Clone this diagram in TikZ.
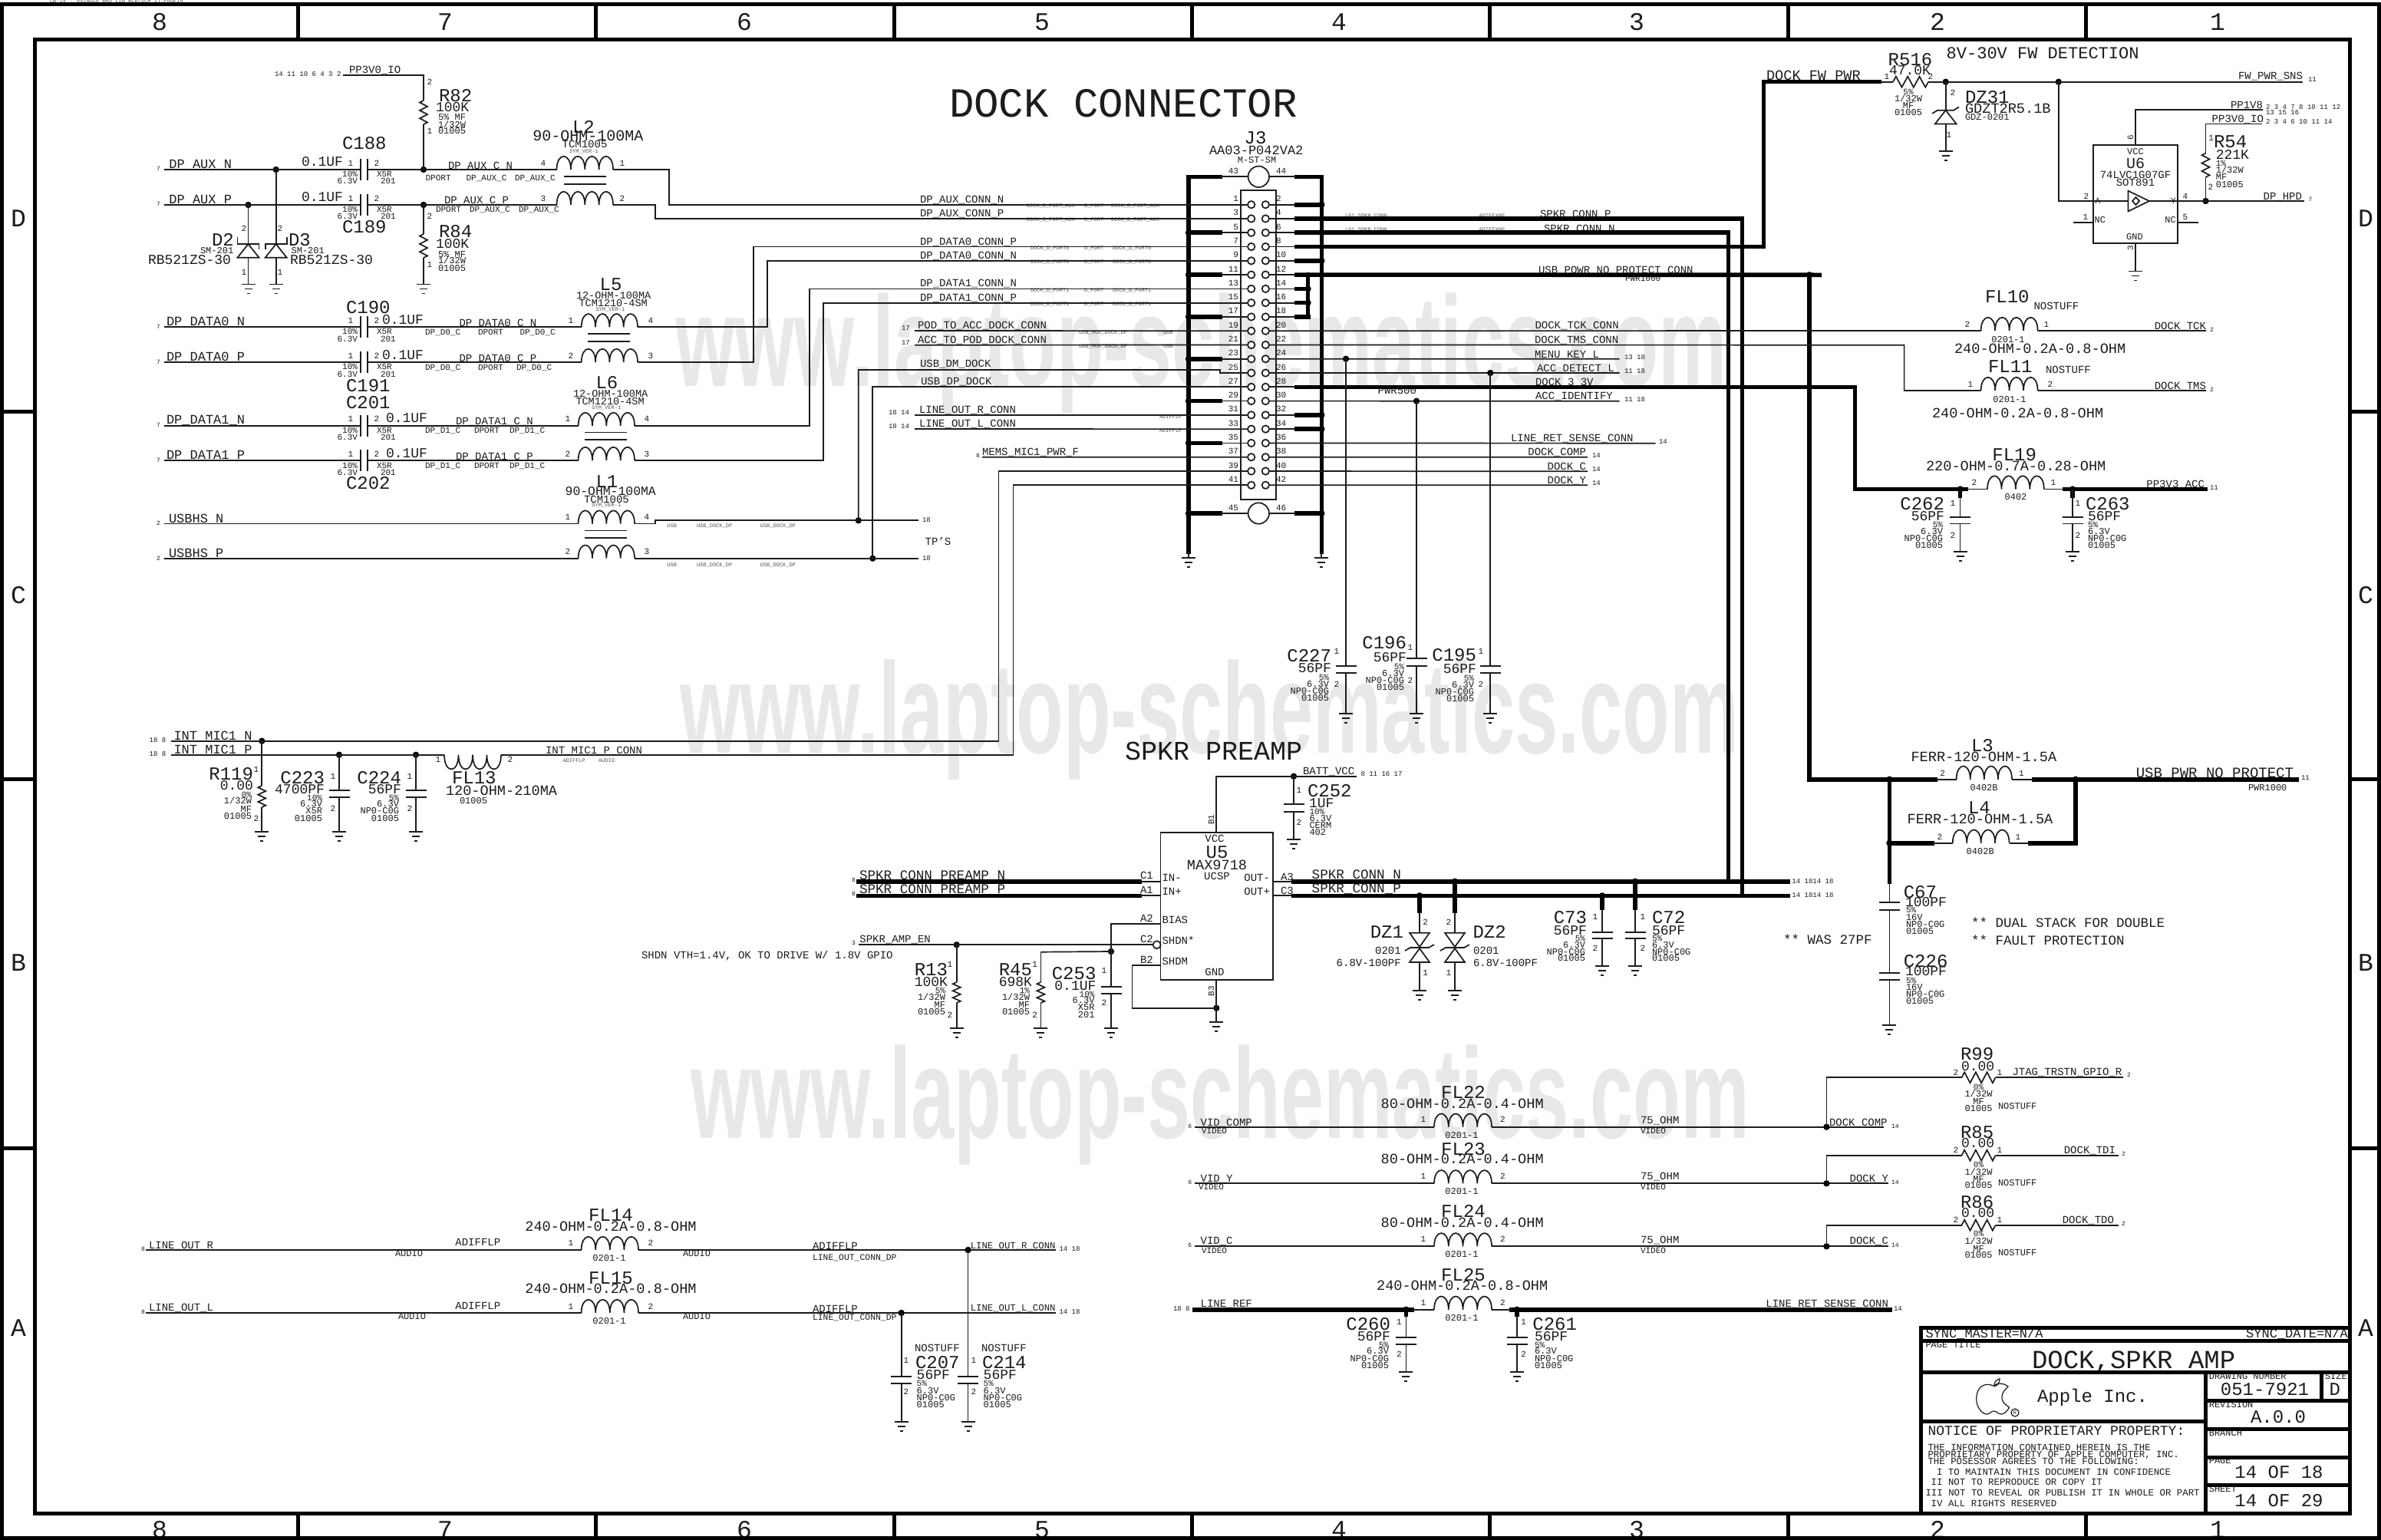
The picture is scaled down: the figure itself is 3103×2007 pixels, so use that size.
\documentclass[tikz,border=0pt]{standalone}
\usepackage{graphicx}
\usepackage{fontspec}
\setmainfont{Liberation Mono}
\newfontfamily\wmfont{Liberation Sans}
\usetikzlibrary{calc}
\definecolor{wmark}{HTML}{E8E8EA}
\definecolor{ink}{HTML}{1C1C1C}
\definecolor{tinyink}{HTML}{555555}
\catcode`\_=12
\newcounter{tn}
\tikzset{
  txt/.style={inner sep=0pt,outer sep=0pt,text=ink},
  wire/.style={line width=1.7pt,line cap=butt,line join=miter,draw=ink},
  tw/.style={line width=5.6pt,line cap=rect,line join=miter,draw=black},
  frameline/.style={line width=5pt,draw=black,line join=miter},
}
\newcommand\TL[4]{\stepcounter{tn}\node[txt,anchor=base west,font=\fontsize{#3}{#3}\selectfont] (t\arabic{tn}) at (#1,#2) {#4};}
\newcommand\TR[4]{\stepcounter{tn}\node[txt,anchor=base east,font=\fontsize{#3}{#3}\selectfont] (t\arabic{tn}) at (#1,#2) {#4};}
\newcommand\TC[4]{\stepcounter{tn}\node[txt,anchor=base,font=\fontsize{#3}{#3}\selectfont] (t\arabic{tn}) at (#1,#2) {#4};}
\newcommand\TT[3]{\stepcounter{tn}\node[txt,anchor=base west,text=tinyink,font=\fontsize{7}{7}\selectfont] (t\arabic{tn}) at (#1,#2) {#3};}
\newcommand\Pn[3]{\stepcounter{tn}\node[txt,anchor=base,font=\fontsize{11}{11}\selectfont] (t\arabic{tn}) at (#1,#2) {#3};}
\newcommand\Rt[3]{\stepcounter{tn}\node[txt,anchor=base,rotate=90,font=\fontsize{11}{11}\selectfont] (t\arabic{tn}) at (#1,#2) {#3};}
\newcommand\WM[3]{\stepcounter{tn}\node[txt,text=wmark,anchor=base west,font=\wmfont\bfseries\fontsize{168}{168}\selectfont] (t\arabic{tn}) at (#1,#2) {\scalebox{#3}[1]{www.laptop-schematics.com}};}
\newcommand\Pt[3]{\coordinate (#1) at (#2,#3);}
\newcommand\Dot[3]{\coordinate (#1) at (#2,#3);\fill[black] (#1) circle (4.2pt);}
\newcommand\Gnd[3]{\coordinate (#1) at (#2,#3);
  \draw[wire] (#2-9,#3) -- (#2+9,#3) (#2-5,#3+6) -- (#2+5,#3+6) (#2-2,#3+12) -- (#2+2,#3+12);}
\newcommand\Coil[4]{\coordinate (#1-a) at (#2,#4);\coordinate (#1-b) at (#3,#4);
  \pgfmathsetmacro\rkw{(#3-#2)/4}
  \draw[wire] (#1-a) .. controls +(0,-23) and +(0,-23) .. ++(\rkw,0) .. controls +(0,-23) and +(0,-23) .. ++(\rkw,0) .. controls +(0,-23) and +(0,-23) .. ++(\rkw,0) .. controls +(0,-23) and +(0,-23) .. ++(\rkw,0);}
\newcommand\CoilD[4]{\coordinate (#1-a) at (#2,#4);\coordinate (#1-b) at (#3,#4);
  \pgfmathsetmacro\rkw{(#3-#2)/4}
  \draw[wire] (#1-a) .. controls +(0,25) and +(0,25) .. ++(\rkw,0) .. controls +(0,25) and +(0,25) .. ++(\rkw,0) .. controls +(0,25) and +(0,25) .. ++(\rkw,0) .. controls +(0,25) and +(0,25) .. ++(\rkw,0);}
\newcommand\CapH[3]{\coordinate (#1-a) at (#2,#3);\coordinate (#1-b) at (#2+9,#3);
  \draw[wire] (#2,#3-14) -- (#2,#3+14) (#2+9,#3-14) -- (#2+9,#3+14);}
\newcommand\CapV[4]{\coordinate (#1-a) at (#2,#3);\coordinate (#1-b) at (#2,#4);
  \draw[wire] (#2-13.5,#3) -- (#2+13.5,#3) (#2-13.5,#4) -- (#2+13.5,#4);}
\newcommand\ResV[4]{\coordinate (#1-a) at (#2,#3);\coordinate (#1-b) at (#2,#4);
  \pgfmathsetmacro\rkw{(#4-#3)/6}
  \draw[wire] (#1-a) -- ++(-5,\rkw/2) -- ++(10,\rkw) -- ++(-10,\rkw) -- ++(10,\rkw) -- ++(-10,\rkw) -- ++(10,\rkw) -- (#1-b);}
\newcommand\ResH[4]{\coordinate (#1-a) at (#2,#4);\coordinate (#1-b) at (#3,#4);
  \pgfmathsetmacro\rkw{(#3-#2)/6}
  \draw[wire] (#1-a) -- ++(\rkw/2,-7) -- ++(\rkw,14) -- ++(\rkw,-14) -- ++(\rkw,14) -- ++(\rkw,-14) -- ++(\rkw,14) -- (#1-b);}
% name, x, top coordinate, plate1, plate2, ground y
\newcommand\CapG[6]{\CapV{#1}{#2}{#4}{#5}\Gnd{#1g}{#2}{#6}\draw[wire] (#3) -- (#1-a) (#1-b) -- (#1g);}
\newcommand\ResG[6]{\ResV{#1}{#2}{#4}{#5}\Gnd{#1g}{#2}{#6}\draw[wire] (#3) -- (#1-a) (#1-b) -- (#1g);}
\begin{document}
\begin{tikzpicture}[x=1pt,y=-1pt]
\useasboundingbox (0,0) rectangle (3103,2007);
\fill[white] (0,0) rectangle (3103,2007);
% ---------- watermark
\WM{880}{503}{.596}
\WM{886}{981}{.60}
\WM{900}{1483}{.60}
% ---------- all text (below the wires)
\TT{65}{3.5}{CB-14 : eSINGLE_BRD_LIB_WLB(SCH_1):PAGE14}
\TC{208}{40}{33}{8}\TC{580}{40}{33}{7}\TC{970}{40}{33}{6}\TC{1358}{40}{33}{5}\TC{1745}{40}{33}{4}\TC{2133}{40}{33}{3}\TC{2525}{40}{33}{2}\TC{2890}{40}{33}{1}
\TC{208}{2004}{33}{8}\TC{580}{2004}{33}{7}\TC{970}{2004}{33}{6}\TC{1358}{2004}{33}{5}\TC{1745}{2004}{33}{4}\TC{2133}{2004}{33}{3}\TC{2525}{2004}{33}{2}\TC{2890}{2004}{33}{1}
\TC{24}{295}{33}{D}\TC{24}{786}{33}{C}\TC{24}{1265}{33}{B}\TC{24}{1741}{33}{A}
\TC{3083}{295}{33}{D}\TC{3083}{786}{33}{C}\TC{3083}{1265}{33}{B}\TC{3083}{1741}{33}{A}
\TL{1237}{153}{54}{DOCK CONNECTOR}
\TL{1466}{990}{35}{SPKR PREAMP}
% top-left
\TL{358}{100}{9}{14 11 10 6 4 3 2}\TL{455}{96}{14}{PP3V0_IO}
\Pn{560}{111}{2}\TL{572}{132}{24}{R82}\TL{568}{145.5}{18}{100K}\TL{571}{157}{12}{5\% MF}\TL{571}{166}{12}{1/32W}\TL{571}{175}{12}{01005}\Pn{560}{175}{1}
\TL{204}{222}{8}{7}\TL{220.4}{219.6}{17}{DP_AUX_N}\TL{204}{268}{8}{7}\TL{220.4}{265}{17}{DP_AUX_P}
\TL{446}{194}{24}{C188}\TL{393}{216.5}{18}{0.1UF}\Pn{457}{216}{1}\Pn{491}{216}{2}\TR{466}{230}{11}{10\%}\TR{466}{239}{11}{6.3V}\TL{491}{230}{11}{X5R}\TL{496}{239}{11}{201}
\TL{393}{262}{18}{0.1UF}\Pn{457}{262}{1}\Pn{491}{262}{2}\TR{466}{276}{11}{10\%}\TR{466}{285}{11}{6.3V}\TL{491}{276}{11}{X5R}\TL{496}{285}{11}{201}\TL{446}{303}{24}{C189}
\TL{584}{220}{14}{DP_AUX_C_N}\TL{554.6}{235}{11}{DPORT}\TL{607.6}{235}{11}{DP_AUX_C}\TL{671}{235}{11}{DP_AUX_C}
\TL{579}{265}{14}{DP_AUX_C_P}\TL{568}{276}{11}{DPORT}\TL{612}{276}{11}{DP_AUX_C}\TL{676}{276}{11}{DP_AUX_C}
\TL{746}{173}{24}{L2}\TL{694.4}{183}{20}{90-OHM-100MA}\TL{732.6}{193}{14}{TCM1005}\TT{742}{199}{SYM_VER-1}
\Pn{708}{216}{4}\Pn{811}{216}{1}\Pn{708}{262}{3}\Pn{811}{262}{2}
\Pn{560}{285}{2}\TL{572}{309}{24}{R84}\TL{568}{323}{18}{100K}\TL{571}{335}{12}{5\% MF}\TL{571}{343}{12}{1/32W}\TL{571}{353.6}{12}{01005}\Pn{560}{348}{1}
\TL{276}{320.5}{24}{D2}\TL{376}{320.5}{24}{D3}\TL{261}{330}{12}{SM-201}\TL{379.6}{330}{12}{SM-201}\TL{193}{344.6}{18}{RB521ZS-30}\TL{378}{344.6}{18}{RB521ZS-30}
\Pn{318}{301}{2}\Pn{365}{301}{2}\Pn{318}{358}{1}\Pn{365}{358}{1}
\TL{204}{428}{8}{7}\TL{217}{424}{17}{DP_DATA0_N}\TL{204}{474}{8}{7}\TL{217}{470.5}{17}{DP_DATA0_P}\TL{204}{556}{8}{7}\TL{217}{552}{17}{DP_DATA1_N}\TL{204}{602}{8}{7}\TL{217}{598}{17}{DP_DATA1_P}
\TL{204}{684}{8}{2}\TL{220}{681}{17}{USBHS_N}\TL{204}{730}{8}{2}\TL{220}{726}{17}{USBHS_P}
\TL{451}{408.5}{24}{C190}\TL{498}{422}{18}{0.1UF}\Pn{457}{421}{1}\Pn{491}{421}{2}\TR{466}{435.7}{11}{10\%}\TR{466}{445}{11}{6.3V}\TL{491}{435.7}{11}{X5R}\TL{496}{445}{11}{201}
\TL{498}{468}{18}{0.1UF}\Pn{457}{467}{1}\Pn{491}{467}{2}\TR{466}{481.5}{11}{10\%}\TR{466}{491}{11}{6.3V}\TL{491}{481.5}{11}{X5R}\TL{496}{491}{11}{201}\TL{451}{510}{24}{C191}
\TL{451}{532}{24}{C201}\TL{503}{550}{18}{0.1UF}\Pn{457}{549}{1}\Pn{491}{549}{2}\TR{466}{564}{11}{10\%}\TR{466}{573}{11}{6.3V}\TL{491}{564}{11}{X5R}\TL{496}{573}{11}{201}
\TL{503}{596}{18}{0.1UF}\Pn{457}{595}{1}\Pn{491}{595}{2}\TR{466}{610}{11}{10\%}\TR{466}{619}{11}{6.3V}\TL{491}{610}{11}{X5R}\TL{496}{619}{11}{201}\TL{451}{637}{24}{C202}
\TL{598.5}{425}{14}{DP_DATA0_C_N}\TL{554}{436}{11}{DP_D0_C}\TL{623}{436}{11}{DPORT}\TL{677.5}{436}{11}{DP_D0_C}
\TL{598.5}{471}{14}{DP_DATA0_C_P}\TL{554}{482}{11}{DP_D0_C}\TL{623}{482}{11}{DPORT}\TL{673}{482}{11}{DP_D0_C}
\TL{594}{553}{14}{DP_DATA1_C_N}\TL{554}{564}{11}{DP_D1_C}\TL{618}{564}{11}{DPORT}\TL{664}{564}{11}{DP_D1_C}
\TL{594}{599}{14}{DP_DATA1_C_P}\TL{554}{610}{11}{DP_D1_C}\TL{618}{610}{11}{DPORT}\TL{664}{610}{11}{DP_D1_C}
\TL{781.6}{378}{24}{L5}\TL{751}{389}{13.5}{12-OHM-100MA}\TL{754.6}{399}{13.5}{TCM1210-4SM}\TT{776.5}{405}{SYM_VER-1}
\Pn{744}{421}{1}\Pn{848}{421}{4}\Pn{744}{467}{2}\Pn{848}{467}{3}
\TL{776.5}{506}{24}{L6}\TL{747}{517}{13.5}{12-OHM-100MA}\TL{750.5}{527}{13.5}{TCM1210-4SM}\TT{771.4}{533}{SYM_VER-1}
\Pn{740}{549}{1}\Pn{843}{549}{4}\Pn{740}{595}{2}\Pn{843}{595}{3}
\TL{776.5}{635}{24}{L1}\TL{736.7}{645.5}{16.4}{90-OHM-100MA}\TL{761}{655}{14}{TCM1005}\TT{771.4}{660.7}{SYM_VER-1}
\Pn{740}{677}{1}\Pn{843}{677}{4}\Pn{740}{722}{2}\Pn{843}{722}{3}
\TT{869.4}{687}{USB}\TT{908}{687}{USB_DOCK_DP}\TT{990.7}{687}{USB_DOCK_DP}\TT{869.4}{738}{USB}\TT{908}{738}{USB_DOCK_DP}\TT{990.7}{738}{USB_DOCK_DP}
\TL{1202}{680}{9}{18}\TL{1202}{730}{9}{18}\TL{1205.7}{710}{14}{TP'S}
% J3 left
\TC{1636}{187.5}{24}{J3}\TL{1576}{201.7}{17}{AA03-P042VA2}\TC{1638}{212}{12}{M-ST-SM}
\TL{1199}{264.6}{14}{DP_AUX_CONN_N}\TL{1199}{282.7}{14}{DP_AUX_CONN_P}\TL{1199}{319}{14}{DP_DATA0_CONN_P}\TL{1199}{337.5}{14}{DP_DATA0_CONN_N}\TL{1199}{373.7}{14}{DP_DATA1_CONN_N}\TL{1199}{392}{14}{DP_DATA1_CONN_P}
\TT{1338}{270.5}{DOCK_D_PORT_AUX}\TT{1413}{270.5}{D_PORT}\TT{1448}{270.5}{DOCK_D_PORT_AUX}
\TT{1338}{288.7}{DOCK_D_PORT_AUX}\TT{1413}{288.7}{D_PORT}\TT{1448}{288.7}{DOCK_D_PORT_AUX}
\TT{1343}{325.5}{DOCK_D_PORT0}\TT{1413}{325.5}{D_PORT}\TT{1450}{325.5}{DOCK_D_PORT0}
\TT{1343}{343.7}{DOCK_D_PORT0}\TT{1413}{343.7}{D_PORT}\TT{1450}{343.7}{DOCK_D_PORT0}
\TT{1343}{380.4}{DOCK_D_PORT1}\TT{1413}{380.4}{D_PORT}\TT{1450}{380.4}{DOCK_D_PORT1}
\TT{1343}{398.6}{DOCK_D_PORT1}\TT{1413}{398.6}{D_PORT}\TT{1450}{398.6}{DOCK_D_PORT1}
\TL{1175}{430}{9}{17}\TL{1196}{428.5}{14}{POD_TO_ACC_DOCK_CONN}\TL{1175}{449}{9}{17}\TL{1196}{447}{14}{ACC_TO_POD_DOCK_CONN}
\TT{1406}{435}{USB_MUX_DOCK_DP}\TT{1516}{435}{USB}\TT{1406}{453.6}{USB_MUX_DOCK_DP}\TT{1516}{453.6}{USB}
\TL{1199}{478}{14}{USB_DM_DOCK}\TL{1200}{501}{14}{USB_DP_DOCK}
\TL{1158}{540}{9}{18 14}\TL{1198}{538.5}{14}{LINE_OUT_R_CONN}\TL{1158}{558}{9}{18 14}\TL{1198}{556}{14}{LINE_OUT_L_CONN}
\TT{1511}{545}{ADIFFLP}\TT{1511}{563.5}{ADIFFLP}
\TL{1272}{596}{8}{8}\TL{1280}{593.5}{14}{MEMS_MIC1_PWR_F}
% J3 pin numbers
\foreach \k in {0,...,20}{\pgfmathtruncatemacro\pa{2*\k+1}\pgfmathtruncatemacro\pb{2*\k+2}\pgfmathsetmacro\py{262.7+18.28*\k}
 \TR{1614}{\py}{11}{\pa}\TL{1663}{\py}{11}{\pb}}
\TR{1614}{226.7}{11}{43}\TL{1663}{226.7}{11}{44}\TR{1614}{665.7}{11}{45}\TL{1663}{665.7}{11}{46}
% J3 right
\TT{1753}{283}{L61_SPKR_CONN}\TT{1927.5}{283}{ADIFFXHP}\TL{2007}{283.6}{14}{SPKR_CONN_P}
\TT{1753}{301}{L61_SPKR_CONN}\TT{1927.5}{301}{ADIFFXHP}\TL{2012}{302}{14}{SPKR_CONN_N}
\TL{2005}{356}{14}{USB_POWR_NO_PROTECT_CONN}\TL{2118}{366.6}{11}{PWR1000}
\TL{2000.5}{428.7}{14}{DOCK_TCK_CONN}\TL{2000}{447.6}{14}{DOCK_TMS_CONN}
\TL{2000}{466}{14}{MENU_KEY_L}\TL{2117}{468}{9}{13 18}\TL{2003}{484.8}{14}{ACC_DETECT_L}\TL{2117}{486}{9}{11 18}
\TL{2001}{502.5}{14}{DOCK_3_3V}\TL{1795.6}{513}{14}{PWR500}\TL{2001}{520.7}{14}{ACC_IDENTIFY}\TL{2117}{523}{9}{11 18}
\TL{1969}{575.7}{14}{LINE_RET_SENSE_CONN}\TL{2162}{578}{9}{14}
\TR{2067}{593.5}{14}{DOCK_COMP}\TL{2075}{596}{9}{14}\TR{2067}{612}{14}{DOCK_C}\TL{2075}{614}{9}{14}\TR{2067}{630}{14}{DOCK_Y}\TL{2075}{632}{9}{14}
% C227 C196 C195
\TR{1735}{862}{24}{C227}\TR{1735}{876}{18}{56PF}\TR{1732}{886}{11}{5\%}\TR{1732}{895}{12}{6.3V}\TR{1732}{904}{12}{NP0-C0G}\TR{1732}{913}{12}{01005}\Pn{1742}{852}{1}\Pn{1742}{895}{2}
\TR{1833}{845}{24}{C196}\TR{1833}{862}{18}{56PF}\TR{1830}{872}{11}{5\%}\TR{1830}{881}{12}{6.3V}\TR{1830}{890}{12}{NP0-C0G}\TR{1830}{899}{12}{01005}\Pn{1838}{847}{1}\Pn{1838}{890}{2}
\TR{1924}{861}{24}{C195}\TR{1924}{877}{18}{56PF}\TR{1921}{887}{11}{5\%}\TR{1921}{896}{12}{6.3V}\TR{1921}{905}{12}{NP0-C0G}\TR{1921}{914}{12}{01005}\Pn{1930}{852}{1}\Pn{1930}{895}{2}
% FW
\TL{2302}{104.5}{18.6}{DOCK_FW_PWR}\TL{2460.7}{86}{24}{R516}\TL{2462}{98}{18}{47.0K}\Pn{2459}{104}{1}\Pn{2516}{104}{2}
\TC{2487}{123.6}{11}{5\%}\TC{2487}{132.6}{12}{1/32W}\TC{2487}{141.5}{12}{MF}\TC{2487}{150}{12}{01005}
\TL{2536.7}{76.5}{22}{8V-30V FW DETECTION}
\Pn{2545}{125}{2}\Pn{2540}{179.5}{1}\TL{2561}{134.8}{24}{DZ31}\TL{2561}{147}{18.6}{GDZT2R5.1B}\TL{2561}{157}{12}{GDZ-0201}
\TR{3001}{103.6}{14}{FW_PWR_SNS}\TL{3008}{107}{9}{11}
\TR{2949}{141.5}{14}{PP1V8}\TL{2953}{142.4}{9}{2 3 4 7 8 10 11 12}\TL{2953}{149.5}{9}{13 15 16}
\TL{2882.7}{160}{14}{PP3V0_IO}\TL{2953}{161.6}{9}{2 3 4 6 10 11 14}
\Pn{2881.6}{183}{1}\Pn{2881}{247.3}{2}\TL{2885}{193}{24}{R54}\TL{2887.8}{207}{18}{221K}\TL{2887.8}{216}{11}{1\%}\TL{2887.8}{225.4}{12}{1/32W}\TL{2887.8}{234.4}{12}{MF}\TL{2887.8}{244}{12}{01005}
\Rt{2780}{179.5}{6}\TC{2783}{201}{12}{VCC}\TC{2783}{219.6}{20}{U6}\TC{2783}{232}{14}{74LVC1G07GF}\TC{2783}{242}{14}{SOT891}
\Pn{2719}{259}{2}\TL{2730.6}{265}{11}{A}\TR{2835.7}{265}{11}{Y}\Pn{2848}{259}{4}
\Pn{2718}{286.6}{1}\TL{2729.6}{290}{12}{NC}\TR{2835.7}{290}{12}{NC}\Pn{2848}{286.6}{5}\TC{2782}{312}{12}{GND}\Rt{2780}{323}{3}
\TR{3000}{260.7}{14}{DP_HPD}\TL{3008.7}{262}{8}{7}
% FL10 etc
\TL{2587}{394}{24}{FL10}\TL{2650.5}{403}{14}{NOSTUFF}\Pn{2564}{426}{2}\Pn{2667}{426}{1}\TC{2617}{446}{12}{0201-1}\TL{2547}{460.7}{18.6}{240-OHM-0.2A-0.8-OHM}
\TR{2875}{429}{14}{DOCK_TCK}\TL{2880}{432}{8}{2}
\TL{2591}{485}{24}{FL11}\TL{2666}{486}{14}{NOSTUFF}\Pn{2568}{504}{1}\Pn{2672}{504}{2}\TC{2619}{524}{12}{0201-1}\TL{2518}{544}{18.6}{240-OHM-0.2A-0.8-OHM}
\TR{2875}{507}{14}{DOCK_TMS}\TL{2880}{510}{8}{2}
\TL{2596.4}{600}{24}{FL19}\TL{2510}{613.4}{18.6}{220-OHM-0.7A-0.28-OHM}\Pn{2573}{632}{2}\Pn{2676}{632}{1}\TC{2627}{651}{12}{0402}
\TR{2873}{635.7}{14}{PP3V3_ACC}\TL{2880}{638}{9}{11}
\TR{2534}{664}{24}{C262}\TR{2534}{678}{18}{56PF}\TR{2532}{687}{11}{5\%}\TR{2532}{696}{12}{6.3V}\TR{2532}{705}{12}{NP0-C0G}\TR{2532}{714}{12}{01005}\Pn{2545}{659}{1}\Pn{2545}{701}{2}
\TL{2718}{664}{24}{C263}\TL{2721}{678}{18}{56PF}\TL{2721}{687}{11}{5\%}\TL{2721}{696}{12}{6.3V}\TL{2721}{705}{12}{NP0-C0G}\TL{2721}{714}{12}{01005}\Pn{2708}{659}{1}\Pn{2708}{701}{2}
% INT MIC
\TL{194.6}{967}{9}{18 8}\TL{226.5}{964}{17}{INT_MIC1_N}\TL{194.6}{985}{9}{18 8}\TL{226.5}{982}{17}{INT_MIC1_P}
\TR{330}{1016}{24}{R119}\TR{330}{1029}{18}{0.00}\TR{328}{1039}{11}{0\%}\TR{328}{1047.7}{12}{1/32W}\TR{328}{1058}{12}{MF}\TR{328}{1067}{12}{01005}\Pn{334}{1006}{1}\Pn{334}{1070}{2}
\TR{423}{1021}{24}{C223}\TR{423}{1034}{18}{4700PF}\TR{420}{1043}{11}{10\%}\TR{420}{1051.7}{12}{6.3V}\TR{420}{1060.7}{12}{X5R}\TR{420}{1070.7}{12}{01005}\Pn{434}{1015}{1}\Pn{434}{1057}{2}
\TR{523}{1021}{24}{C224}\TR{523}{1034}{18}{56PF}\TR{520}{1043}{11}{5\%}\TR{520}{1051.7}{12}{6.3V}\TR{520}{1060.7}{12}{NP0-C0G}\TR{520}{1070.7}{12}{01005}\Pn{534}{1015}{1}\Pn{534}{1057}{2}
\TL{589}{1021.7}{24}{FL13}\TL{581}{1036.7}{18.6}{120-OHM-210MA}\TL{599}{1047.7}{12}{01005}\Pn{571}{993}{1}\Pn{665}{993}{2}
\TL{711}{982.7}{14}{INT_MIC1_P_CONN}\TT{733.5}{993.7}{ADIFFLP}\TT{780}{993.7}{AUDIO}
% SPKR preamp
\TL{1110}{1149}{8}{8}\TL{1120}{1146.7}{17.6}{SPKR_CONN_PREAMP_N}\TL{1110}{1167}{8}{8}\TL{1120}{1164.7}{17.6}{SPKR_CONN_PREAMP_P}
\TL{1110}{1231}{8}{3}\TL{1120.4}{1228}{14}{SPKR_AMP_EN}\TL{836}{1249.3}{14}{SHDN VTH=1.4V, OK TO DRIVE W/ 1.8V GPIO}
\TL{1698}{1009}{14}{BATT_VCC}\TL{1773.5}{1011}{9}{8 11 16 17}\Rt{1582}{1068}{B1}
\Pn{1693}{1033}{1}\Pn{1693}{1075}{2}\TL{1704}{1038}{24}{C252}\TL{1706}{1052.7}{18}{1UF}\TL{1706.5}{1061}{11}{10\%}\TL{1706.5}{1070.7}{12}{6.3V}\TL{1706.5}{1079}{12}{CERM}\TL{1706.5}{1088}{12}{402}
\TC{1583}{1097}{14}{VCC}\TC{1586}{1118}{24}{U5}\TC{1586}{1133.5}{18.6}{MAX9718}\TC{1586}{1146}{14}{UCSP}\TC{1583}{1271.7}{14}{GND}
\TL{1486}{1145.7}{14}{C1}\TL{1514.5}{1148.3}{14}{IN-}\TL{1486}{1164}{14}{A1}\TL{1514.5}{1166.7}{14}{IN+}
\TL{1486}{1201}{14}{A2}\TL{1514.5}{1203}{14}{BIAS}\TL{1486}{1228}{14}{C2}\TL{1514.5}{1230}{14}{SHDN*}\TL{1486}{1255}{14}{B2}\TL{1514.5}{1257.7}{14}{SHDM}
\TR{1655}{1148.3}{14}{OUT-}\TR{1655}{1166.7}{14}{OUT+}\TL{1669}{1147}{14}{A3}\TL{1669}{1165}{14}{C3}\Rt{1582}{1291.7}{B3}
\TL{1709.7}{1145.7}{17.6}{SPKR_CONN_N}\TL{1709.7}{1163.7}{17.6}{SPKR_CONN_P}
\TR{1235}{1271.7}{24}{R13}\TR{1235}{1285}{18}{100K}\TR{1232}{1294}{11}{5\%}\TR{1232}{1303}{12}{1/32W}\TR{1232}{1313}{12}{MF}\TR{1232}{1322.7}{12}{01005}\Pn{1238}{1260}{1}\Pn{1238}{1326}{2}
\TR{1345}{1271.7}{24}{R45}\TR{1345}{1285}{18}{698K}\TR{1342}{1294}{11}{1\%}\TR{1342}{1303}{12}{1/32W}\TR{1342}{1313}{12}{MF}\TR{1342}{1322.7}{12}{01005}\Pn{1348.7}{1260}{1}\Pn{1348.7}{1326}{2}
\TR{1428.4}{1276.7}{24}{C253}\TR{1428.4}{1290.7}{18}{0.1UF}\TR{1426.5}{1299}{11}{10\%}\TR{1426.5}{1307}{12}{6.3V}\TR{1426.5}{1316.7}{12}{X5R}\TR{1426.5}{1326.7}{12}{201}\Pn{1439}{1268}{1}\Pn{1439}{1310.7}{2}
\TR{1829}{1222.7}{24}{DZ1}\TR{1825.7}{1243}{14}{0201}\TR{1825.7}{1259}{14}{6.8V-100PF}\TL{1919.5}{1222.7}{24}{DZ2}\TL{1920}{1243}{14}{0201}\TL{1920}{1259}{14}{6.8V-100PF}
\Pn{1857.6}{1205}{2}\Pn{1888}{1205}{2}\Pn{1857.6}{1271}{1}\Pn{1888}{1271}{1}
\TR{2068}{1203}{24}{C73}\TR{2068}{1218}{18}{56PF}\TR{2066}{1226}{11}{5\%}\TR{2066}{1235}{12}{6.3V}\TR{2066}{1244}{12}{NP0-C0G}\TR{2066}{1252.7}{12}{01005}\Pn{2079}{1198}{1}\Pn{2079}{1239}{2}
\TL{2153}{1203}{24}{C72}\TL{2153}{1218}{18}{56PF}\TL{2153}{1226}{11}{5\%}\TL{2153}{1235}{12}{6.3V}\TL{2153}{1244}{12}{NP0-C0G}\TL{2153}{1252.7}{12}{01005}\Pn{2141}{1198}{1}\Pn{2141}{1239}{2}
\TL{2335.4}{1151}{9}{14 1814 18}\TL{2335.4}{1169}{9}{14 1814 18}
% L3 L4
\TL{2569}{979}{24}{L3}\TL{2490.5}{992.7}{18.6}{FERR-120-OHM-1.5A}\Pn{2531.7}{1011.7}{2}\Pn{2634.5}{1011.7}{1}\TL{2567.6}{1030.7}{12}{0402B}
\TL{2565}{1060.7}{24}{L4}\TL{2485.6}{1073}{18.6}{FERR-120-OHM-1.5A}\Pn{2527.8}{1094}{2}\Pn{2630}{1094}{1}\TL{2562.7}{1113}{12}{0402B}
\TL{2783.8}{1013}{19}{USB_PWR_NO_PROTECT}\TL{2999}{1016}{9}{11}\TL{2930}{1030}{12}{PWR1000}
\TL{2480.8}{1170}{24}{C67}\TL{2483}{1181}{18}{100PF}\TL{2484}{1189}{11}{5\%}\TL{2484}{1199}{12}{16V}\TL{2484}{1208}{12}{NP0-C0G}\TL{2484}{1217}{12}{01005}
\TL{2480.8}{1260}{24}{C226}\TL{2483}{1271.7}{18}{100PF}\TL{2484}{1281}{11}{5\%}\TL{2484}{1290}{12}{16V}\TL{2484}{1299}{12}{NP0-C0G}\TL{2484}{1308}{12}{01005}
\TL{2324}{1230.7}{17.5}{** WAS 27PF}\TL{2569}{1208}{17.5}{** DUAL STACK FOR DOUBLE}\TL{2569}{1231}{17.5}{** FAULT PROTECTION}
% line out
\TL{184}{1630}{8}{8}\TL{194}{1627.7}{14}{LINE_OUT_R}\TC{796}{1591}{24}{FL14}\TC{796}{1604.3}{18.6}{240-OHM-0.2A-0.8-OHM}\Pn{744}{1623.3}{1}\Pn{848}{1623.3}{2}\TC{794}{1643.3}{12}{0201-1}
\TL{593.4}{1623.3}{14}{ADIFFLP}\TL{515}{1637.7}{12}{AUDIO}\TL{890}{1637.7}{12}{AUDIO}\TL{1059}{1628.3}{14}{ADIFFLP}\TL{1059}{1642.7}{11.4}{LINE_OUT_CONN_DP}
\TL{1264.8}{1627.7}{12.3}{LINE_OUT_R_CONN}\TL{1380.5}{1630}{9}{14 18}
\TL{184}{1712}{8}{8}\TL{194}{1708.3}{14}{LINE_OUT_L}\TC{796}{1673.3}{24}{FL15}\TC{796}{1685}{18.6}{240-OHM-0.2A-0.8-OHM}\Pn{744}{1706}{1}\Pn{848}{1706}{2}\TC{794}{1725.7}{12}{0201-1}
\TL{593.4}{1706}{14}{ADIFFLP}\TL{519}{1719.3}{12}{AUDIO}\TL{890}{1719.3}{12}{AUDIO}\TL{1059}{1710}{14}{ADIFFLP}\TL{1059}{1720}{11.4}{LINE_OUT_CONN_DP}
\TL{1264.8}{1708.3}{12.3}{LINE_OUT_L_CONN}\TL{1380.5}{1712}{9}{14 18}
\TL{1192}{1761.7}{14}{NOSTUFF}\TL{1279}{1761.7}{14}{NOSTUFF}\TL{1193}{1783.3}{24}{C207}\TL{1280}{1783.3}{24}{C214}
\TL{1194.7}{1797.3}{18}{56PF}\TL{1194.7}{1806.7}{11}{5\%}\TL{1194.7}{1816}{12}{6.3V}\TL{1194.7}{1825}{12}{NP0-C0G}\TL{1194.7}{1834}{12}{01005}\Pn{1181}{1776.7}{1}\Pn{1181}{1817.7}{2}
\TL{1281.7}{1797.3}{18}{56PF}\TL{1281.7}{1806.7}{11}{5\%}\TL{1281.7}{1816}{12}{6.3V}\TL{1281.7}{1825}{12}{NP0-C0G}\TL{1281.7}{1834}{12}{01005}\Pn{1269}{1776.7}{1}\Pn{1269}{1817.7}{2}
% video
\TL{1548.4}{1470}{8}{6}\TL{1564.6}{1467.3}{14}{VID_COMP}\TL{1566}{1477.3}{11}{VIDEO}\TC{1907}{1431.7}{24}{FL22}\TC{1905.7}{1444.3}{18.6}{80-OHM-0.2A-0.4-OHM}\Pn{1855}{1462.7}{1}\Pn{1958.5}{1462.7}{2}\TC{1905}{1483.3}{12}{0201-1}\TL{2138}{1464}{14}{75_OHM}\TL{2138}{1477.3}{11}{VIDEO}\TL{2384}{1467.7}{14}{DOCK_COMP}\TL{2465}{1470}{8}{14}
\TL{1548.4}{1543}{8}{6}\TL{1564.6}{1540.7}{14}{VID_Y}\TL{1562}{1550}{11}{VIDEO}\TC{1907}{1505}{24}{FL23}\TC{1905.7}{1516.7}{18.6}{80-OHM-0.2A-0.4-OHM}\Pn{1855}{1536.7}{1}\Pn{1958.5}{1536.7}{2}\TC{1905}{1556}{12}{0201-1}\TL{2138}{1537.7}{14}{75_OHM}\TL{2138}{1550}{11}{VIDEO}\TR{2461}{1540.7}{14}{DOCK_Y}\TL{2465}{1543}{8}{14}
\TL{1548.4}{1625}{8}{6}\TL{1564.6}{1621.7}{14}{VID_C}\TL{1566}{1633}{11}{VIDEO}\TC{1907}{1586.7}{24}{FL24}\TC{1905.7}{1599}{18.6}{80-OHM-0.2A-0.4-OHM}\Pn{1855}{1618.7}{1}\Pn{1958.5}{1618.7}{2}\TC{1905}{1638}{12}{0201-1}\TL{2138}{1620}{14}{75_OHM}\TL{2138}{1633}{11}{VIDEO}\TR{2461}{1621.7}{14}{DOCK_C}\TL{2465}{1625}{8}{14}
\TL{1529}{1708}{9}{18 8}\TL{1564.6}{1703.3}{14}{LINE_REF}\TC{1907}{1669.3}{24}{FL25}\TC{1905.7}{1681.7}{18.6}{240-OHM-0.2A-0.8-OHM}\Pn{1855}{1701}{1}\Pn{1958.5}{1701}{2}\TC{1905}{1721}{12}{0201-1}\TR{2461}{1703.3}{14}{LINE_RET_SENSE_CONN}\TL{2468}{1708}{9}{14}
\TR{1812}{1733.3}{24}{C260}\TR{1812}{1747}{18}{56PF}\TR{1810}{1756}{11}{5\%}\TR{1810}{1764.3}{12}{6.3V}\TR{1810}{1774}{12}{NP0-C0G}\TR{1810}{1783}{12}{01005}\Pn{1823.5}{1726}{1}\Pn{1823.5}{1768}{2}
\TL{1997.4}{1733.3}{24}{C261}\TL{2000}{1747}{18}{56PF}\TL{2000}{1756}{11}{5\%}\TL{2000}{1764.3}{12}{6.3V}\TL{2000}{1774}{12}{NP0-C0G}\TL{2000}{1783}{12}{01005}\Pn{1985.7}{1726}{1}\Pn{1985.7}{1768}{2}
\TL{2555}{1381.7}{24}{R99}\TL{2556}{1395}{18}{0.00}\Pn{2549}{1401.7}{2}\Pn{2606}{1401.7}{1}\TC{2578.5}{1420.7}{11}{0\%}\TC{2578.5}{1429}{12}{1/32W}\TC{2578.5}{1439}{12}{MF}\TC{2578.5}{1448.3}{12}{01005}\TL{2604}{1445}{12}{NOSTUFF}\TL{2622.5}{1401}{14}{JTAG_TRSTN_GPIO_R}\TL{2772}{1403}{8}{2}
\TL{2555}{1483.3}{24}{R85}\TL{2556}{1495.7}{18}{0.00}\Pn{2549}{1502.7}{2}\Pn{2606}{1502.7}{1}\TC{2578.5}{1521.7}{11}{0\%}\TC{2578.5}{1531}{12}{1/32W}\TC{2578.5}{1540.7}{12}{MF}\TC{2578.5}{1548}{12}{01005}\TL{2604}{1545.7}{12}{NOSTUFF}\TR{2757}{1503}{14}{DOCK_TDI}\TL{2765}{1506}{8}{2}
\TL{2555}{1574.3}{24}{R86}\TL{2556}{1586.7}{18}{0.00}\Pn{2549}{1593}{2}\Pn{2606}{1593}{1}\TC{2578.5}{1611.7}{11}{0\%}\TC{2578.5}{1621}{12}{1/32W}\TC{2578.5}{1631}{12}{MF}\TC{2578.5}{1639.3}{12}{01005}\TL{2604}{1636.7}{12}{NOSTUFF}\TR{2755}{1594.5}{14}{DOCK_TDO}\TL{2765}{1597}{8}{2}
% title block
\TL{2509.5}{1743.3}{17}{SYNC_MASTER=N/A}\TR{3059.8}{1743.3}{17}{SYNC_DATE=N/A}\TL{2509.5}{1756.7}{12}{PAGE TITLE}\TL{2648}{1783}{34}{DOCK,SPKR AMP}
\TL{2655}{1827}{24}{Apple Inc.}\TL{2878.8}{1797.3}{12}{DRAWING NUMBER}\TC{2951.5}{1818}{24}{051-7921}\TL{3030}{1797.3}{12}{SIZE}\TL{3035.7}{1818}{24}{D}
\TL{2878.8}{1834.3}{12}{REVISION}\TC{2969}{1854.5}{24}{A.0.0}\TL{2878.8}{1871}{12}{BRANCH}\TL{2878.8}{1907.7}{12}{PAGE}\TC{2970}{1926.7}{24}{14 OF 18}\TL{2878.8}{1944.3}{12}{SHEET}\TC{2970}{1963.3}{24}{14 OF 29}
\TL{2512.5}{1870.7}{18}{NOTICE OF PROPRIETARY PROPERTY:}
\TL{2512.5}{1890}{12.4}{THE INFORMATION CONTAINED HEREIN IS THE}\TL{2512.5}{1899}{12.4}{PROPRIETARY PROPERTY OF APPLE COMPUTER, INC.}\TL{2512.5}{1908}{12.4}{THE POSESSOR AGREES TO THE FOLLOWING:}
\TL{2524}{1922}{12.4}{I TO MAINTAIN THIS DOCUMENT IN CONFIDENCE}\TL{2516.7}{1935}{12.4}{II NOT TO REPRODUCE OR COPY IT}\TL{2509.5}{1949}{12.4}{III NOT TO REVEAL OR PUBLISH IT IN WHOLE OR PART}\TL{2516.7}{1963}{12.4}{IV ALL RIGHTS RESERVED}
% ---------- J3 coordinates
\foreach \k in {0,...,20}{\pgfmathtruncatemacro\pa{2*\k+1}\pgfmathtruncatemacro\pb{2*\k+2}\pgfmathsetmacro\py{266.7+18.28*\k}
 \coordinate (JL\pa) at (1630.7,\py);\coordinate (JR\pb) at (1649.3,\py);}
\Pt{railL}{1549}{230.3}\Pt{railR}{1722.3}{230.3}\Pt{stubL}{1590}{230.3}\Pt{stubR}{1690}{230.3}
\Pt{mountT}{1640.3}{230.3}\Pt{mountB}{1640.3}{669}
\Pt{gL}{1549}{719}\Pt{gR}{1722.3}{719}
% ---------- connector rails
\draw[tw] (stubL) -- (railL) -- (gL);
\draw[tw] (stubR) -- (railR) -- (gR);
\draw[wire] (stubL) -- (mountT) -- (stubR);
\draw[tw] (gL |- mountB) -- (stubL |- mountB);
\draw[tw] (gR |- mountB) -- (stubR |- mountB);
\draw[wire] (stubL |- mountB) -- (mountB) -- (stubR |- mountB);
\Gnd{gLg}{1549}{727}\Gnd{gRg}{1722.3}{727}
\draw[wire] (gL) -- (gLg) (gR) -- (gRg);
\fill[black] (gL |- mountB) circle (4.2pt) (gR |- mountB) circle (4.2pt);
\foreach \n in {5,11,17,23,29,35}{\draw[wire] (stubL |- JL\n) -- (JL\n);\draw[tw] (railL |- JL\n) -- (stubL |- JL\n);\fill[black] (railL |- JL\n) circle (4.2pt);}
\foreach \n in {2,10,32,34}{\draw[wire] (JR\n) -- (stubR |- JR\n);\draw[tw] (railR |- JR\n) -- (stubR |- JR\n);\fill[black] (railR |- JR\n) circle (4.2pt);}
\foreach \n in {4,6,8,12,14,16,18,28}{\draw[wire] (JR\n) -- (stubR |- JR\n);}
% stitched power pins 12..18
\Pt{jv}{1704.7}{358.3}
\draw[tw,line width=4.6pt] (jv) |- (stubR |- JR18);
\draw[tw] (stubR |- JR14) -- (jv |- JR14) (stubR |- JR16) -- (jv |- JR16) (stubR |- JR18) -- (jv |- JR18);
\fill[black] (jv) circle (3.5pt) (jv |- JR14) circle (4pt) (jv |- JR16) circle (4pt);
% ---------- top left group
\Pt{PPio}{447}{98}\Pt{nAuxN}{214}{221}\Pt{nAuxP}{214}{267}
\Dot{dD3}{359.7}{221}\Dot{dD2}{323.5}{267}\Dot{dR82}{552}{221}\Dot{dR84}{552}{267}
\CapH{C188}{470}{221}\CapH{C189}{470}{267}
\draw[wire] (nAuxN) -- (C188-a) (nAuxP) -- (C189-a);
\ResV{R82}{552}{131}{162}
\draw[wire] (PPio) -| (R82-a) (R82-b) -- (dR82);
\ResG{R84}{552}{dR84}{305}{336}{370.5}
\Coil{L2a}{725.5}{799}{221}\Coil{L2b}{725.5}{799}{267}
\draw[wire] (C188-b) -- (L2a-a) (C189-b) -- (L2b-a);
\draw[wire] (735,230) -- (790,230) (735,240) -- (790,240);
\draw[wire] (L2a-b) -- ++(73,0) |- (JL1);
\draw[wire] (L2b-b) -- ++(55,0) |- (JL3);
% diodes
\Gnd{gD2}{323.5}{370.5}\Gnd{gD3}{359.7}{370.5}
\draw[wire] (dD2) -- (323.5,318) (323.5,335.7) -- (gD2);
\draw[wire] (dD3) -- (359.7,318) (359.7,335.7) -- (gD3);
\draw[wire] (323.5,318) -- (309.5,335.7) -- (337.5,335.7) -- cycle;
\draw[wire] (359.7,318) -- (345.7,335.7) -- (373.7,335.7) -- cycle;
\draw[wire] (309.5,309) -- (309.5,318) -- (337.5,318) -- (337.5,325);
\draw[wire] (373.7,309) -- (373.7,318) -- (345.7,318) -- (345.7,325);
% data lines
\foreach \nm/\ya in {C190/426.3,C191/472,C201/555,C202/600}{\CapH{\nm}{470}{\ya}}
\Pt{nD0N}{214}{426.3}\Pt{nD0P}{214}{472}\Pt{nD1N}{214}{555}\Pt{nD1P}{214}{600}
\draw[wire] (nD0N) -- (C190-a) (nD0P) -- (C191-a) (nD1N) -- (C201-a) (nD1P) -- (C202-a);
\Coil{L5a}{757.7}{831}{426.3}\Coil{L5b}{757.7}{831}{472}\Coil{L6a}{753.6}{827}{555}\Coil{L6b}{753.6}{827}{600}
\draw[wire] (C190-b) -- (L5a-a) (C191-b) -- (L5b-a) (C201-b) -- (L6a-a) (C202-b) -- (L6b-a);
\draw[wire] (766,435) -- (821,435) (766,445) -- (821,445) (762,563.4) -- (817,563.4) (762,573.2) -- (817,573.2);
\draw[wire] (L5a-b) -- (1000.3,426.3) |- (JL9);
\draw[wire] (L5b-b) -- (981.7,472) |- (JL7);
\draw[wire] (L6a-b) -- (1054.7,555) |- (JL13);
\draw[wire] (L6b-b) -- (1073.3,600) |- (JL15);
% USB
\Pt{nUN}{214}{682.6}\Pt{nUP}{214}{727.7}\Pt{eUN}{1196.7}{678.3}\Pt{eUP}{1196.7}{727.7}
\Coil{L1a}{753.6}{827}{682.6}\Coil{L1b}{753.6}{827}{727.7}
\draw[wire] (nUN) -- (L1a-a) (nUP) -- (L1b-a);
\draw[wire] (762,691.5) -- (817,691.5) (762,701) -- (817,701);
\Dot{dUN}{1118.7}{678.3}\Dot{dUP}{1137.3}{727.7}
\draw[wire] (L1a-b) -- (854,682.6) -- (854,678.3) -- (eUN);
\draw[wire] (L1b-b) -- (eUP);
\draw[wire] (dUN) -- (1118.7,482) -- (1590,482) -- (1590,486) -- (JL25);
\draw[wire] (dUP) |- (JL27);
% left pins with off-page nets
\Pt{nPod}{1192}{431}\Pt{nAcc}{1192}{449.7}\Pt{nLr}{1192}{541}\Pt{nLl}{1192}{559}\Pt{nMems}{1280}{595.7}
\draw[wire] (nPod) -- (JL19) (nAcc) -- (JL21) (nLr) -- (JL31) (nLl) -- (JL33) (nMems) -- (JL37);
% mic
\Pt{nMn}{222.7}{965.7}\Pt{nMp}{222.7}{983.7}
\Dot{dMn}{341.3}{965.7}\Dot{dC223}{442}{983.7}\Dot{dC224}{542}{983.7}
\draw[wire] (nMn) -- (1301.6,965.7) |- (JL39);
\CoilD{FL13}{579}{653}{983.7}
\draw[wire] (nMp) -- (FL13-a);
\draw[wire] (FL13-b) -- (1320.5,983.7) |- (JL41);
\ResG{R119}{341.3}{dMn}{1024}{1052}{1084}
\CapG{C223}{442}{dC223}{1030}{1039}{1084}
\CapG{C224}{542}{dC224}{1030}{1039}{1084}
% right pins
\Pt{spkPv}{2270.4}{1167.3}\Pt{spkNv}{2252.5}{1148.7}
\draw[tw] (stubR |- JR4) -| (spkPv);
\draw[tw] (stubR |- JR6) -| (spkNv);
\Pt{fwv}{2298.5}{106.7}\Pt{fwe}{2449}{106.7}
\draw[tw] (stubR |- JR8) -| (fwv) -- (fwe);
\Pt{usb18}{2371.4}{358.3}\Dot{dUsb}{2358}{358.3}
\draw[tw] (stubR |- JR12) -- (usb18);
\Pt{u1}{2358}{1015.7}
\draw[tw] (dUsb) -- (u1);
\Pt{acc3}{2417.3}{637.5}
\Dot{dC262}{2554.6}{637.5}\Dot{dC263}{2701}{637.5}
\draw[tw] (stubR |- JR28) -| (acc3) -- (2562,637.5);
\draw[tw] (2691,637.5) -- (2874.5,637.5);
\Coil{FL19}{2590}{2663.8}{637.5}
\draw[wire] (2562,637.5) -- (FL19-a) (FL19-b) -- (2691,637.5);
\draw[tw] (dC262) -- (2554.6,646) (dC263) -- (2701,646);
\CapG{C262}{2554.6}{dC262}{674}{682.6}{718.7}
\CapG{C263}{2701}{dC263}{674}{682.6}{718.7}
% FW section
\ResH{R516}{2467}{2513}{106.7}
\draw[wire] (fwe) -- (R516-a);
\Pt{fwEnd}{3001}{106.7}\Dot{dDZ}{2535.7}{106.7}\Dot{dU6a}{2682.7}{106.7}
\draw[wire] (R516-b) -- (fwEnd);
\Gnd{gDZ}{2535.7}{197}
\draw[wire] (dDZ) -- (2535.7,143.7) (2535.7,161.6) -- (gDZ);
\draw[wire] (2535.7,143.7) -- (2521.7,161.6) -- (2549.7,161.6) -- cycle;
\draw[wire] (2518,148) -- (2525,143.7) -- (2546,143.7) -- (2553,139.5);
\draw[wire] (2728,189.3) rectangle (2837.8,317);
\Pt{v18}{2949}{143.3}\Pt{v33}{2947.5}{161.6}\Pt{hpd}{3002.6}{262}
\draw[wire] (2783,189.3) |- (v18);
\draw[wire] (2773.5,248.7) -- (2801,262) -- (2773.5,275.4) -- cycle;
\draw[wire] (2783.5,257) -- (2788,262) -- (2783.5,267) -- (2779,262) -- cycle;
\draw[wire] (dU6a) |- (2773.5,262);
\Dot{dR54}{2874.5}{262}
\draw[wire] (2801,262) -- (hpd);
\ResV{R54}{2874.5}{199.6}{230.8}
\draw[wire] (v33) -| (R54-a) (R54-b) -- (dR54);
\draw[wire] (2701.5,289.7) -- (2728,289.7) (2837.8,289.7) -- (2864.8,289.7);
\Gnd{gU6}{2783}{353.6}
\draw[wire] (2783,317) -- (gU6);
% FL10/11
\Coil{FL10}{2581.6}{2655.6}{431}\Coil{FL11}{2581.6}{2655.6}{509}
\Pt{tck}{2875}{431}\Pt{tms}{2875}{509}
\draw[wire] (JR20) -- (FL10-a) (FL10-b) -- (tck);
\draw[wire] (JR22) -- (2481.6,449.7) |- (FL11-a) (FL11-b) -- (tms);
% pins 24..42
\Pt{eMenu}{2110.7}{467.7}\Pt{eDet}{2110.7}{486}\Pt{eId}{2110.7}{522.7}\Pt{eRet}{2157.7}{577.7}\Pt{eComp}{2069}{595.7}\Pt{eC}{2069}{614.3}\Pt{eY}{2069}{632.3}
\draw[wire] (JR24) -- (eMenu) (JR26) -- (eDet) (JR30) -- (eId) (JR36) -- (eRet) (JR38) -- (eComp) (JR40) -- (eC) (JR42) -- (eY);
\Dot{dC227}{1754}{467.7}\Dot{dC196}{1846}{522.7}\Dot{dC195}{1942.3}{486}
\CapG{C227}{1754}{dC227}{868}{877}{930}
\CapG{C196}{1846}{dC196}{858}{868}{930}
\CapG{C195}{1942.3}{dC195}{868}{877}{930}
% U5
\draw[wire] (1512.6,1085) rectangle (1658.7,1276.7);
\Pt{batt}{1767.7}{1011.7}\Dot{dBatt}{1686}{1011.7}
\draw[wire] (1585.3,1085) |- (batt);
\CapG{C252}{1686}{dBatt}{1048}{1057.7}{1094}
\Pt{pN}{1119}{1148.7}\Pt{pP}{1119}{1167.3}\Pt{pNe}{1485}{1148.7}\Pt{pPe}{1485}{1167.3}
\draw[tw] (pN) -- (pNe) (pP) -- (pPe);
\draw[wire] (pNe) -- (1512.6,1148.7) (pPe) -- (1512.6,1167.3);
\draw[wire] (1658.7,1148.7) -- (1685.5,1148.7) (1658.7,1167.3) -- (1685.5,1167.3);
\Pt{oN}{1685.5}{1148.7}\Pt{oP}{1685.5}{1167.3}\Pt{fN}{2330}{1148.7}\Pt{fP}{2330}{1167.3}
\draw[tw] (oN) -- (fN) (oP) -- (fP);
\Dot{dBias}{1448}{1240}\Pt{bias}{1512.6}{1203.7}
\draw[wire] (bias) -| (dBias);
\CapG{C253}{1448}{dBias}{1286}{1295}{1340}
\Pt{en}{1119}{1231.3}\Dot{dR13}{1246.7}{1231.3}
\draw[wire] (en) -- (1507,1231.3);
\draw[wire,fill=white] (1507.6,1231.3) circle (5pt);
\ResG{R13}{1246.7}{dR13}{1280}{1307}{1340}
\Pt{R45t}{1356.4}{1240.7}
\draw[wire] (dBias) -- (R45t);
\ResG{R45}{1356.4}{R45t}{1280}{1307}{1340}
\Dot{dGndU5}{1585.3}{1313.7}\Gnd{gU5}{1585.3}{1331.7}
\draw[wire] (1585.3,1276.7) -- (gU5);
\draw[wire] (1512.6,1258.3) -- (1475.6,1258.3) |- (dGndU5);
% DZ1 DZ2
\foreach \nm/\xa/\yd in {dzA/1850/1167.3,dzB/1896/1148.7}{
 \Dot{\nm}{\xa}{\yd}\Gnd{\nm g}{\xa}{1290.7}
 \draw[tw,line cap=butt] (\nm) -- (\xa,1190);
 \draw[wire] (\xa,1190) -- (\xa,1215.7) (\xa,1254) -- (\nm g);
 \draw[wire] (\xa-13,1215.7) -- (\xa+13,1215.7) -- (\xa,1234) -- cycle;
 \draw[wire] (\xa-13,1254) -- (\xa+13,1254) -- (\xa,1236) -- cycle;
 \draw[wire] (\xa-19,1239) -- (\xa-12,1235) -- (\xa+12,1235) -- (\xa+19,1231);
}
% C73 C72
\Dot{dC73}{2088}{1167.3}\Dot{dC72}{2131}{1148.7}
\Pt{c73t}{2088}{1186}\Pt{c72t}{2131}{1186}
\draw[tw,line cap=butt] (dC73) -- (c73t) (dC72) -- (c72t);
\CapG{C73}{2088}{c73t}{1215}{1223}{1258.7}
\CapG{C72}{2131}{c72t}{1215}{1223}{1258.7}
% L3 L4 C67
\Pt{L3tl}{2522}{1015.7}\Pt{L3tr}{2650.5}{1015.7}\Pt{usbe}{2993}{1015.7}
\Dot{dL3a}{2462.4}{1015.7}\Dot{dL3b}{2705}{1015.7}\Dot{dL4a}{2462.4}{1098.7}
\draw[tw] (u1) -- (L3tl) (L3tr) -- (usbe);
\Coil{L3}{2549.6}{2622}{1015.7}\Coil{L4}{2544.8}{2618.5}{1098.7}
\draw[wire] (L3tl) -- (L3-a) (L3-b) -- (L3tr);
\Pt{L4tl}{2518}{1098.7}\Pt{L4tr}{2646}{1098.7}
\draw[tw] (dL4a) -- (L4tl) (L4tr) -| (dL3b);
\draw[wire] (L4tl) -- (L4-a) (L4-b) -- (L4tr);
\Pt{c67t}{2462.4}{1148.7}
\draw[tw] (dL3a) -- (c67t);
\CapV{C67}{2462.4}{1176}{1185.7}\CapV{C226}{2462.4}{1267.7}{1276.7}\Gnd{gC67}{2462.4}{1336}
\draw[wire] (c67t) -- (C67-a) (C67-b) -- (C226-a) (C226-b) -- (gC67);
% line out
\Pt{loR}{190}{1629}\Pt{loL}{190}{1711}\Pt{loRe}{1375.7}{1629}\Pt{loLe}{1375.7}{1711}
\Coil{FL14}{757.6}{832}{1629}\Coil{FL15}{757.6}{832}{1711}
\draw[wire] (loR) -- (FL14-a) (FL14-b) -- (loRe) (loL) -- (FL15-a) (FL15-b) -- (loLe);
\Dot{dC214}{1261.6}{1629}\Dot{dC207}{1174.7}{1711}
\CapG{C207}{1174.7}{dC207}{1794.3}{1802.7}{1852.7}
\CapG{C214}{1261.6}{dC214}{1794.3}{1802.7}{1852.7}
% video
\Pt{vC}{1557}{1468.7}\Pt{vY}{1557}{1542.3}\Pt{vCh}{1557}{1624.3}\Pt{vCe}{2455}{1468.7}\Pt{vYe}{2461}{1542.3}\Pt{vChe}{2461}{1624.3}
\Coil{FL22}{1869}{1944}{1468.7}\Coil{FL23}{1869}{1944}{1542.3}\Coil{FL24}{1869}{1944}{1624.3}
\draw[wire] (vC) -- (FL22-a) (FL22-b) -- (vCe) (vY) -- (FL23-a) (FL23-b) -- (vYe) (vCh) -- (FL24-a) (FL24-b) -- (vChe);
\Dot{dR99}{2380.4}{1468.7}\Dot{dR85}{2380.4}{1542.3}\Dot{dR86}{2380.4}{1624.3}
\ResH{R99}{2556.5}{2600.5}{1404.3}\ResH{R85}{2556.5}{2600.5}{1505.7}\ResH{R86}{2556.5}{2600.5}{1596.7}
\draw[wire] (dR99) |- (R99-a) (dR85) |- (R85-a) (dR86) |- (R86-a);
\Pt{eR99}{2767}{1404.3}\Pt{eR85}{2761}{1505.7}\Pt{eR86}{2761}{1596.7}
\draw[wire] (R99-b) -- (eR99) (R85-b) -- (eR85) (R86-b) -- (eR86);
% line ref
\Pt{lr}{1557}{1706.7}\Pt{lrl}{1839.7}{1706.7}\Pt{lrr}{1969.6}{1706.7}\Pt{lre}{2463.3}{1706.7}
\draw[tw] (lr) -- (lrl) (lrr) -- (lre);
\Coil{FL25}{1869}{1944}{1706.7}
\draw[wire] (lrl) -- (FL25-a) (FL25-b) -- (lrr);
\Dot{dC260}{1832.4}{1706.7}\Dot{dC261}{1977}{1706.7}
\Pt{c260t}{1832.4}{1716}\Pt{c261t}{1977}{1716}
\draw[tw,line cap=butt] (dC260) -- (c260t) (dC261) -- (c261t);
\CapG{C260}{1832.4}{c260t}{1743}{1751.7}{1788}
\CapG{C261}{1977}{c261t}{1743}{1751.7}{1788}
% J3 body on top of wires
\draw[wire] (1617.3,248) rectangle (1662.7,650.7);
\draw[wire,fill=white] (mountT) circle (13.7pt) (mountB) circle (13.7pt);
\foreach \k in {0,...,20}{\pgfmathtruncatemacro\pa{2*\k+1}\pgfmathtruncatemacro\pb{2*\k+2}
 \draw[wire,fill=white] (JL\pa) circle (4.7pt) (JR\pb) circle (4.7pt);}
% ---------- title block
\draw[frameline] (2503.7,1730) rectangle (3062,1972);
\draw[frameline] (2503.7,1747.3) -- (3062,1747.3) (2503.7,1788.3) -- (3062,1788.3) (2503.7,1852.7) -- (2874,1852.7);
\draw[frameline] (2874,1788.3) -- (2874,1972);
\draw[frameline] (2874,1825.7) -- (3062,1825.7) (2874,1862.3) -- (3062,1862.3) (2874,1899) -- (3062,1899) (2874,1935) -- (3062,1935);
\draw[frameline] (3025.3,1788.3) -- (3025.3,1825.7);
% apple logo
\draw[wire,line width=1.2pt] (2597,1806) .. controls (2590,1802) and (2576,1804) .. (2575.7,1823) .. controls (2575.7,1835) and (2584,1843) .. (2589,1843) .. controls (2593,1843) and (2595,1839) .. (2598.6,1839) .. controls (2602,1839) and (2604,1843) .. (2608,1843) .. controls (2612,1843) and (2617,1838) .. (2618.5,1834) .. controls (2612,1830) and (2608,1826) .. (2609,1820) .. controls (2609,1815) and (2613,1811) .. (2617,1807) .. controls (2612,1802) and (2603,1802) .. (2597,1806);
\draw[wire,line width=1.2pt] (2599,1807) .. controls (2598,1801) and (2602,1798) .. (2606,1797) .. controls (2606,1802) and (2603,1806) .. (2599,1807);
\draw[wire,line width=1.2pt] (2626,1841) circle (5pt);
\TC{2626}{1843.5}{7}{R}
% ---------- sheet frame
\draw[frameline] (2,6) rectangle (3100,2004);
\draw[frameline] (45,52) rectangle (3062,1972);
\foreach \xa in {388,776,1165,1553,1941,2330,2718}{\draw[frameline] (\xa,6) -- (\xa,52) (\xa,1972) -- (\xa,2004);}
\foreach \ya in {536,1015,1496}{\draw[frameline] (2,\ya) -- (45,\ya) (3062,\ya) -- (3100,\ya);}
\end{tikzpicture}
\end{document}
